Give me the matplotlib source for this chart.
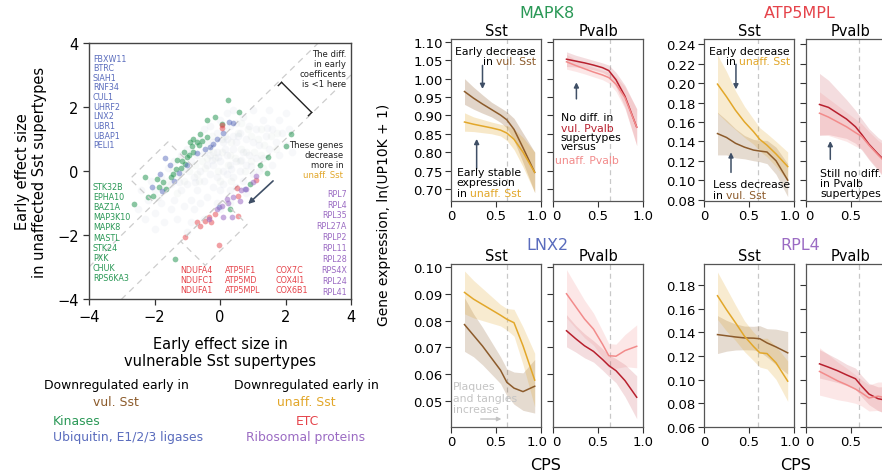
import numpy as np
import matplotlib.pyplot as plt
from matplotlib.patches import Polygon
from matplotlib.transforms import ScaledTranslation

plt.rcParams['font.family'] = ['DejaVu Sans']
plt.rcParams['axes.unicode_minus'] = True

W, H = 882, 477

# colours
VUL_SST = '#8c5b2b'
UNAFF_SST = '#e2a72a'
VUL_PV = '#b8202e'
UNAFF_PV = '#f28b8b'
KIN = '#2a9856'
UBI = '#5a6cbd'
ETC = '#e5434a'
RIB = '#9b6bc3'
ARROW = '#3f4f66'

# ---- scatter data (early effect sizes) ----
bg_x = [-2.5, -2.4, -2.3, -2.2, -2.1, -2.0, -2.0, -1.8, -1.8, -1.7, -1.7, -1.6,
        -1.5, -1.5, -1.4, -1.4, -1.3, -1.3, -1.2, -1.2, -1.1, -1.1, -1.0, -1.0,
        -0.9, -0.9, -0.9, -0.8, -0.8, -0.8, -0.7, -0.7, -0.6, -0.6, -0.6, -0.5,
        -0.5, -0.5, -0.4, -0.4, -0.4, -0.3, -0.3, -0.3, -0.2, -0.2, -0.2, -0.1,
        -0.1, -0.1, -0.1, 0.0, 0.0, 0.0, 0.1, 0.1, 0.1, 0.1, 0.2, 0.2, 0.2, 0.2,
        0.3, 0.3, 0.3, 0.4, 0.4, 0.4, 0.4, 0.5, 0.5, 0.5, 0.5, 0.6, 0.6, 0.7,
        0.7, 0.7, 0.8, 0.8, 0.8, 0.9, 0.9, 1.0, 1.0, 1.0, 1.1, 1.1, 1.2, 1.2,
        1.3, 1.3, 1.4, 1.5, 1.5, 1.6, 1.6, 1.7, 1.8, 1.8, 1.9, 2.0, 2.0, 2.1,
        2.2, -1.0, -0.5, 0.0, -2.0, 0.3, -0.25, 0.15, 0.65, -0.75, 0.95, 1.45,
        -1.25, 0.35, -0.05, 0.55]
bg_y = [-1.2, -0.6, -1.5, -0.9, -0.3, -1.3, -0.6, -1.0, -0.2, -1.6, -0.6, 0.1,
        -1.2, -0.4, -0.9, 0.3, -0.1, -1.5, -0.6, 0.5, -1.1, 0.1, -0.4, 0.7,
        -0.9, 0.3, -1.6, -0.2, 0.9, -1.2, 0.5, -0.6, 0.0, 1.0, -1.0, 0.6,
        -0.3, 1.3, 0.2, -0.8, 0.9, -0.1, 1.4, 0.5, -0.5, 0.9, 0.2, 1.2,
        -0.2, 0.6, -1.0, 0.3, 1.6, -0.6, 0.9, 0.0, 1.3, -0.4, 0.5, 1.8, -0.1, 1.0,
        0.2, 1.4, -0.6, 0.7, -0.2, 1.1, 1.9, 0.3, -0.5, 1.5, 0.9, 0.0, 1.2, 0.6,
        -0.3, 1.7, 0.2, 1.0, -0.7, 1.4, 0.5, -0.1, 0.9, 1.9, 0.4, 1.3, 0.0, 0.8,
        1.6, 0.4, 1.1, 0.7, 1.9, 0.2, 1.3, 0.9, 1.6, 0.5, 1.2, 0.8, 1.8, 1.3,
        0.6, -1.9, -1.5, -1.2, -1.8, -1.0, 0.35, 0.7, 0.35, -0.35, 0.15, 1.35,
        -0.35, 0.05, 0.45, 1.1]
bg2_x = [-1.9, -1.6, -1.3, -1.1, -0.95, -0.75, -0.65, -0.45, -0.35, -0.15,
         -0.05, 0.05, 0.15, 0.25, 0.35, 0.45, 0.55, 0.65, 0.75, 0.85,
         0.95, 1.05, 1.15, 1.25, 1.35, 1.55, 1.75, -1.45, -1.15, -0.85,
         -0.55, -0.25, 0.05, 0.35, 0.65, 0.95, 1.25, -0.7, -0.2, 0.3,
         0.8, 1.3, 1.7, -1.7, -1.2, 0.6, 0.0, -0.4]
bg2_y = [-0.8, -0.3, -0.7, -0.3, 0.0, 0.2, -0.3, 0.1, 0.7, 0.4,
         0.0, 0.6, 1.1, 0.2, 0.9, 0.4, 1.2, 0.7, 0.0, 1.3,
         0.3, 0.6, 1.0, 0.5, 0.8, 1.1, 1.2, 0.0, 0.4, 0.6,
         0.3, 1.1, 1.0, -0.3, 1.5, 1.1, 1.3, -0.1, 0.6, 0.5,
         0.6, 0.1, 0.7, -0.5, 0.0, 0.3, -0.3, 0.4]

kin_x = [0.25, -0.39, -0.15, 0.07, -0.61, -0.91, -0.81, -0.7, -0.65, -0.86, -0.81,
         -1.0, -1.07, -1.15, -1.2, -1.35, -1.45, -1.5, -1.73, -1.93, -2.29, -2.04,
         -2.19, -1.85, -1.65, -2.62, -1.37, 2.16, 2.03, 1.47, 1.22, 1.43, 0.92, 0.3,
         0.59, -1.1, -0.95, -1.3, -0.55, -0.4]
kin_y = [2.22, 1.6, 1.69, 1.47, 1.16, 0.92, 1.0, 0.9, 0.8, 0.79, 0.58,
         0.45, 0.22, 0.3, 0.1, 0.05, -0.1, -0.2, -0.35, -0.25, -0.2, -0.77,
         -0.82, -0.5, -0.55, -1.03, -2.75, 1.16, 0.79, 0.43, 0.19, -0.06, -0.41, -1.19,
         1.83, 0.6, 0.5, 0.35, 0.95, 1.05]
ubi_x = [0.27, 0.08, -0.1, -0.31, -0.45, -1.68, -1.53, -1.83, -2.09, -1.78, -1.25,
         -1.0, -0.7, 0.76, -0.02, 0.4, -1.4, -0.2]
ubi_y = [1.52, 1.2, 1.0, 0.74, 0.7, 0.4, 0.19, -0.09, -0.51, -0.62, -0.05,
         0.2, 0.55, -0.56, -1.13, 1.5, -0.3, 0.85]
etc_x = [0.05, 0.05, 1.09, 0.56, 0.51, 0.56, -0.15, -0.26, -0.46, -0.61, -0.7, -1.07,
         -0.02, -0.35]
etc_y = [1.33, 1.44, -0.28, -0.77, -0.54, -1.4, -1.34, -1.6, -1.55, -1.71, -1.6, -2.07,
         -2.3, -1.45]
rib_x = [1.1, 0.4, 0.2, 0.05, 0.1, 0.36, -0.33, 0.65, 0.6, 0.8, 1.0, -0.1, 0.25]
rib_y = [-0.15, -0.82, -0.87, -1.08, -1.45, -1.45, -1.5, -0.6, -0.95, -0.55, -0.35,
         -1.2, -1.0]

ubi_genes = ['FBXW11', 'BTRC', 'SIAH1', 'RNF34', 'CUL1', 'UHRF2', 'LNX2', 'UBR1',
             'UBAP1', 'PELI1']
kin_genes = ['STK32B', 'EPHA10', 'BAZ1A', 'MAP3K10', 'MAPK8', 'MASTL', 'STK24',
             'PXK', 'CHUK', 'RPS6KA3']
rib_genes = ['RPL7', 'RPL4', 'RPL35', 'RPL27A', 'RPLP2', 'RPL11', 'RPL28', 'RPS4X',
             'RPL24', 'RPL41']
etc_genes = [['NDUFA4', 'NDUFC1', 'NDUFA1'], ['ATP5IF1', 'ATP5MD', 'ATP5MPL'],
             ['COX7C', 'COX4I1', 'COX6B1']]

# ---- expression trends along CPS ----
cps = [0.15, 0.25, 0.35, 0.45, 0.55, 0.62, 0.7, 0.8, 0.93]

mapk8_sst_vul = [0.965, 0.947, 0.931, 0.916, 0.901, 0.888, 0.862, 0.812, 0.745]
mapk8_sst_vul_ci = [0.035, 0.03, 0.025, 0.02, 0.02, 0.022, 0.03, 0.04, 0.055]
mapk8_sst_unaff = [0.882, 0.876, 0.871, 0.866, 0.86, 0.852, 0.835, 0.8, 0.745]
mapk8_sst_unaff_ci = [0.025, 0.02, 0.018, 0.016, 0.016, 0.02, 0.028, 0.04, 0.055]
mapk8_pv_vul = [1.053, 1.048, 1.043, 1.037, 1.03, 1.022, 0.997, 0.952, 0.868]
mapk8_pv_vul_ci = [0.02, 0.016, 0.014, 0.013, 0.013, 0.015, 0.02, 0.03, 0.05]
mapk8_pv_unaff = [1.046, 1.036, 1.027, 1.018, 1.01, 1.003, 0.985, 0.948, 0.868]
mapk8_pv_unaff_ci = [0.02, 0.016, 0.014, 0.013, 0.013, 0.015, 0.02, 0.03, 0.05]

atp_sst_vul = [0.148, 0.144, 0.138, 0.134, 0.131, 0.130, 0.129, 0.12, 0.1]
atp_sst_vul_ci = [0.022, 0.018, 0.015, 0.012, 0.011, 0.011, 0.012, 0.014, 0.017]
atp_sst_unaff = [0.199, 0.186, 0.172, 0.16, 0.15, 0.142, 0.136, 0.127, 0.114]
atp_sst_unaff_ci = [0.03, 0.026, 0.02, 0.016, 0.013, 0.012, 0.012, 0.013, 0.015]
atp_pv_vul = [0.178, 0.175, 0.169, 0.163, 0.155, 0.147, 0.137, 0.127, 0.115]
atp_pv_vul_ci = [0.032, 0.028, 0.024, 0.02, 0.017, 0.016, 0.016, 0.017, 0.02]
atp_pv_unaff = [0.169, 0.165, 0.16, 0.155, 0.149, 0.145, 0.136, 0.126, 0.114]
atp_pv_unaff_ci = [0.022, 0.019, 0.017, 0.015, 0.014, 0.013, 0.014, 0.015, 0.018]

lnx2_sst_vul = [0.0785, 0.0745, 0.0705, 0.066, 0.0615, 0.057, 0.0548, 0.0535, 0.0555]
lnx2_sst_vul_ci = [0.01, 0.008, 0.007, 0.006, 0.005, 0.005, 0.006, 0.007, 0.01]
lnx2_sst_unaff = [0.0905, 0.088, 0.086, 0.084, 0.082, 0.0805, 0.0792, 0.0706, 0.0578]
lnx2_sst_unaff_ci = [0.008, 0.007, 0.006, 0.005, 0.004, 0.004, 0.005, 0.007, 0.01]
lnx2_pv_vul = [0.0762, 0.0733, 0.0706, 0.0685, 0.0655, 0.0632, 0.0613, 0.0576, 0.0514]
lnx2_pv_vul_ci = [0.006, 0.005, 0.0045, 0.004, 0.004, 0.004, 0.0045, 0.006, 0.008]
lnx2_pv_unaff = [0.090, 0.0853, 0.0806, 0.0768, 0.0712, 0.0669, 0.0667, 0.0688, 0.0704]
lnx2_pv_unaff_ci = [0.009, 0.008, 0.007, 0.006, 0.005, 0.0045, 0.0045, 0.006, 0.008]

rpl4_sst_vul = [0.138, 0.137, 0.136, 0.1352, 0.135, 0.1345, 0.131, 0.1276, 0.1226]
rpl4_sst_vul_ci = [0.016, 0.013, 0.011, 0.01, 0.01, 0.011, 0.012, 0.015, 0.018]
rpl4_sst_unaff = [0.1708, 0.159, 0.148, 0.1366, 0.128, 0.1226, 0.122, 0.1142, 0.0987]
rpl4_sst_unaff_ci = [0.02, 0.018, 0.015, 0.013, 0.012, 0.012, 0.013, 0.014, 0.017]
rpl4_pv_vul = [0.1133, 0.1105, 0.1075, 0.104, 0.1007, 0.0943, 0.0878, 0.0839, 0.082]
rpl4_pv_vul_ci = [0.012, 0.011, 0.01, 0.009, 0.009, 0.009, 0.009, 0.01, 0.012]
rpl4_pv_unaff = [0.1069, 0.103, 0.099, 0.0957, 0.092, 0.0887, 0.0845, 0.086, 0.084]
rpl4_pv_unaff_ci = [0.02, 0.018, 0.016, 0.014, 0.012, 0.011, 0.011, 0.012, 0.014]

ANN = 7.8   # annotation font size inside panels


def rich_line(ax, x, y, parts, ha='left', size=ANN, tr=None):
    tr = tr or ax.transAxes
    if ha == 'left':
        s, c = parts[0]
        t = ax.text(x, y, s, color=c, fontsize=size, transform=tr, ha='left', va='baseline')
        for s, c in parts[1:]:
            t = ax.annotate(s, xy=(1, 0), xycoords=t, color=c, fontsize=size,
                            ha='left', va='bottom')
    else:
        s, c = parts[-1]
        t = ax.text(x, y, s, color=c, fontsize=size, transform=tr, ha='right', va='baseline')
        for s, c in reversed(parts[:-1]):
            t = ax.annotate(s, xy=(0, 0), xycoords=t, color=c, fontsize=size,
                            ha='right', va='bottom')


def px_axes(left, top, width, height):
    return fig.add_axes([left / W, 1 - (top + height) / H, width / W, height / H])


def panel(left, top, height, ylim, yticks, ylabels, series, vline, cut=False):
    ax = px_axes(left, top, 90, height)
    for m, ci, c, a in series:
        m = np.array(m)
        ci = np.array(ci)
        ax.fill_between(cps, m - ci, m + ci, color=c, alpha=a, lw=0)
        ax.plot(cps, m, color=c, lw=1.1)
    ax.axvline(vline, color='#c8c8c8', ls=(0, (4, 3)), lw=0.9, zorder=0)
    ax.set_xlim(0, 1)
    ax.set_ylim(*ylim)
    ax.set_xticks([0, 0.5, 1.0])
    ax.set_xticklabels(['0', '0.5', '' if cut else '1.0'])
    ax.set_yticks(yticks)
    if ylabels:
        ax.set_yticklabels(ylabels)
    else:
        ax.set_yticklabels([])
    ax.tick_params(direction='out', length=4, width=0.8, labelsize=9.5, color='#333333',
                   pad=2)
    for sp in ax.spines.values():
        sp.set_color('#555555')
        sp.set_linewidth(0.9)
    # the "1.0" of Sst and the "0" of Pvalb sit right next to each other
    labs = ax.get_xticklabels()
    if ylabels:
        labs[-1].set_transform(labs[-1].get_transform()
                               + ScaledTranslation(-0.035, 0, fig.dpi_scale_trans))
    else:
        labs[0].set_transform(labs[0].get_transform()
                              + ScaledTranslation(0.03, 0, fig.dpi_scale_trans))
    return ax


def arrow(ax, x, y0, y1, color=ARROW):
    ax.annotate('', xy=(x, y1), xytext=(x, y0),
                arrowprops=dict(arrowstyle='-|>', color=color, lw=1.1,
                                mutation_scale=7, shrinkA=0, shrinkB=0))


fig = plt.figure(figsize=(W / 100, H / 100), dpi=100)

# ================= scatter =================
ax = px_axes(89, 44, 262, 256)
ax.scatter(bg_x, bg_y, s=30, color='#98a3c6', alpha=0.07, lw=0)
ax.scatter(bg2_x, bg2_y, s=30, color='#a9bcae', alpha=0.07, lw=0)
ax.scatter(kin_x, kin_y, s=17, color=KIN, alpha=0.55, lw=0)
ax.scatter(ubi_x, ubi_y, s=17, color=UBI, alpha=0.5, lw=0)
ax.scatter(etc_x, etc_y, s=17, color=ETC, alpha=0.5, lw=0)
ax.scatter(rib_x, rib_y, s=17, color=RIB, alpha=0.55, lw=0)

dash = dict(color='#cdcdcd', ls=(0, (5, 4)), lw=0.9, zorder=0)
ax.plot([-4, 4], [-3, 5], **dash)
ax.plot([-4, 4], [-5, 3], **dash)
ax.add_patch(Polygon([(-0.84, 0.16), (-1.59, 0.91), (-2.75, -0.25), (-2.0, -1.0)],
                     closed=True, fill=False, ec='#cdcdcd', ls=(0, (5, 4)), lw=0.9))
ax.add_patch(Polygon([(0.08, -0.92), (0.83, -1.67), (-0.45, -2.95), (-1.2, -2.2)],
                     closed=True, fill=False, ec='#cdcdcd', ls=(0, (5, 4)), lw=0.9))

# bracket
ax.plot([1.88, 2.8], [2.77, 1.83], color='#222222', lw=1.0)
ax.plot([1.88, 1.78], [2.77, 2.67], color='#222222', lw=1.0)
ax.plot([2.8, 2.7], [1.83, 1.73], color='#222222', lw=1.0)
for i, s in enumerate(['The diff.', 'in early', 'coefficents', 'is <1 here']):
    ax.text(3.85, 3.58 - 0.31 * i, s, fontsize=6.1, ha='right', va='baseline', color='#222222')
for i, s in enumerate(['These genes', 'decrease', 'more in']):
    ax.text(3.76, 0.75 - 0.31 * i, s, fontsize=6.1, ha='right', va='baseline', color='#222222')
ax.text(3.76, 0.75 - 0.93, 'unaff. Sst', fontsize=6.1, ha='right', va='baseline', color=UNAFF_SST)
ax.annotate('', xy=(0.86, -1.03), xytext=(1.62, -0.31),
            arrowprops=dict(arrowstyle='-|>', color=ARROW, lw=1.2, mutation_scale=8,
                            shrinkA=0, shrinkB=0))

for i, g in enumerate(ubi_genes):
    ax.text(-3.88, 3.45 - 0.301 * i, g, fontsize=5.8, color=UBI, va='baseline')
for i, g in enumerate(kin_genes):
    ax.text(-3.88, -0.56 - 0.317 * i, g, fontsize=5.8, color=KIN, va='baseline')
for i, g in enumerate(rib_genes):
    ax.text(3.88, -0.77 - 0.341 * i, g, fontsize=5.8, color=RIB, va='baseline', ha='right')
for col, xpos in zip(etc_genes, [-1.22, 0.15, 1.68]):
    for j, g in enumerate(col):
        ax.text(xpos, -3.15 - 0.32 * j, g, fontsize=5.8, color=ETC, va='baseline')

ax.set_xlim(-4, 4)
ax.set_ylim(-4, 4)
ax.set_xticks([-4, -2, 0, 2, 4])
ax.set_yticks([-4, -2, 0, 2, 4])
ax.tick_params(direction='out', length=4, width=0.9, labelsize=10.5, color='#333333')
for sp in ax.spines.values():
    sp.set_color('#444444')
    sp.set_linewidth(1.0)

fig.text(31 / W, 1 - 172 / H, 'Early effect size\nin unaffected Sst supertypes', rotation=90,
         ha='center', va='center', fontsize=10.5, linespacing=1.1, multialignment='center')
fig.text(220 / W, 1 - 353 / H, 'Early effect size in\nvulnerable Sst supertypes',
         ha='center', va='center', fontsize=10.5, linespacing=1.1, multialignment='center')

LEG = 8.9
fig.text(116 / W, 1 - 386 / H, 'Downregulated early in', ha='center', va='center', fontsize=LEG)
fig.text(116 / W, 1 - 402 / H, 'vul. Sst', ha='center', va='center', fontsize=LEG, color=VUL_SST)
fig.text(306 / W, 1 - 386 / H, 'Downregulated early in', ha='center', va='center', fontsize=LEG)
fig.text(306 / W, 1 - 402 / H, 'unaff. Sst', ha='center', va='center', fontsize=LEG,
         color=UNAFF_SST)
fig.text(53 / W, 1 - 422 / H, 'Kinases', ha='left', va='center', fontsize=LEG, color=KIN)
fig.text(53 / W, 1 - 438 / H, 'Ubiquitin, E1/2/3 ligases', ha='left', va='center',
         fontsize=LEG, color=UBI)
fig.text(307 / W, 1 - 422 / H, 'ETC', ha='center', va='center', fontsize=LEG, color=ETC)
fig.text(306 / W, 1 - 438 / H, 'Ribosomal proteins', ha='center', va='center',
         fontsize=LEG, color=RIB)

# ================= trend panels =================
TOP1, H1 = 40, 162
TOP2, H2 = 265, 163

mapk8_yt = [0.70, 0.75, 0.80, 0.85, 0.90, 0.95, 1.00, 1.05, 1.10]
ax1 = panel(451, TOP1, H1, (0.667, 1.108), mapk8_yt, ['%.2f' % v for v in mapk8_yt],
            [(mapk8_sst_vul, mapk8_sst_vul_ci, VUL_SST, 0.25),
             (mapk8_sst_unaff, mapk8_sst_unaff_ci, UNAFF_SST, 0.25)], 0.62)
ax2 = panel(553, TOP1, H1, (0.667, 1.108), mapk8_yt, None,
            [(mapk8_pv_vul, mapk8_pv_vul_ci, VUL_PV, 0.15),
             (mapk8_pv_unaff, mapk8_pv_unaff_ci, UNAFF_PV, 0.2)], 0.63)

atp_yt = [0.08, 0.10, 0.12, 0.14, 0.16, 0.18, 0.20, 0.22, 0.24]
ax3 = panel(704, TOP1, H1, (0.0785, 0.2455), atp_yt, ['%.2f' % v for v in atp_yt],
            [(atp_sst_vul, atp_sst_vul_ci, VUL_SST, 0.22),
             (atp_sst_unaff, atp_sst_unaff_ci, UNAFF_SST, 0.22)], 0.6)
ax4 = panel(806, TOP1, H1, (0.0785, 0.2455), atp_yt, None,
            [(atp_pv_vul, atp_pv_vul_ci, VUL_PV, 0.15),
             (atp_pv_unaff, atp_pv_unaff_ci, UNAFF_PV, 0.2)], 0.59, cut=True)

lnx_yt = [0.05, 0.06, 0.07, 0.08, 0.09, 0.10]
ax5 = panel(451, TOP2, H2, (0.0403, 0.1011), lnx_yt, ['%.2f' % v for v in lnx_yt],
            [(lnx2_sst_vul, lnx2_sst_vul_ci, VUL_SST, 0.22),
             (lnx2_sst_unaff, lnx2_sst_unaff_ci, UNAFF_SST, 0.22)], 0.62)
ax6 = panel(553, TOP2, H2, (0.0403, 0.1011), lnx_yt, None,
            [(lnx2_pv_vul, lnx2_pv_vul_ci, VUL_PV, 0.15),
             (lnx2_pv_unaff, lnx2_pv_unaff_ci, UNAFF_PV, 0.2)], 0.63)

rpl_yt = [0.06, 0.08, 0.10, 0.12, 0.14, 0.16, 0.18]
ax7 = panel(704, TOP2, H2, (0.06, 0.1976), rpl_yt, ['%.2f' % v for v in rpl_yt],
            [(rpl4_sst_vul, rpl4_sst_vul_ci, VUL_SST, 0.22),
             (rpl4_sst_unaff, rpl4_sst_unaff_ci, UNAFF_SST, 0.22)], 0.6)
ax8 = panel(806, TOP2, H2, (0.06, 0.1976), rpl_yt, None,
            [(rpl4_pv_vul, rpl4_pv_vul_ci, VUL_PV, 0.15),
             (rpl4_pv_unaff, rpl4_pv_unaff_ci, UNAFF_PV, 0.2)], 0.59, cut=True)

for a in [ax1, ax3, ax5, ax7]:
    a.set_title('Sst', fontsize=10.5, pad=3)
for a in [ax2, ax4, ax6, ax8]:
    a.set_title('Pvalb', fontsize=10.5, pad=3)

fig.text(547 / W, 1 - 13 / H, 'MAPK8', ha='center', va='center', fontsize=11.5, color=KIN)
fig.text(800 / W, 1 - 13 / H, 'ATP5MPL', ha='center', va='center', fontsize=11.5, color=ETC)
fig.text(547 / W, 1 - 246 / H, 'LNX2', ha='center', va='center', fontsize=11.5, color=UBI)
fig.text(800 / W, 1 - 246 / H, 'RPL4', ha='center', va='center', fontsize=11.5, color=RIB)

fig.text(384 / W, 1 - 215 / H, 'Gene expression, ln(UP10K + 1)', rotation=90,
         ha='center', va='center', fontsize=10)
fig.text(546 / W, 1 - 466 / H, 'CPS', ha='center', va='center', fontsize=11.5)
fig.text(796 / W, 1 - 466 / H, 'CPS', ha='center', va='center', fontsize=11.5)

# annotations MAPK8
ax1.text(0.944, 0.907, 'Early decrease', fontsize=ANN, ha='right', va='baseline',
         transform=ax1.transAxes)
rich_line(ax1, 0.944, 0.846, [('in ', 'black'), ('vul. Sst', VUL_SST)], ha='right')
arrow(ax1, 0.35, 1.036, 0.972)
arrow(ax1, 0.285, 0.755, 0.836)
ax1.text(0.063, 0.16, 'Early stable', fontsize=ANN, va='baseline', transform=ax1.transAxes)
ax1.text(0.063, 0.099, 'expression', fontsize=ANN, va='baseline', transform=ax1.transAxes)
rich_line(ax1, 0.063, 0.031, [('in ', 'black'), ('unaff. Sst', UNAFF_SST)])

arrow(ax2, 0.26, 0.945, 0.99)
ax2.text(0.086, 0.502, 'No diff. in', fontsize=ANN, va='baseline', transform=ax2.transAxes)
ax2.text(0.086, 0.434, 'vul. Pvalb', fontsize=ANN, va='baseline', color=VUL_PV,
         transform=ax2.transAxes)
ax2.text(0.086, 0.378, 'supertypes', fontsize=ANN, va='baseline', transform=ax2.transAxes)
ax2.text(0.086, 0.321, 'versus', fontsize=ANN, va='baseline', transform=ax2.transAxes)
ax2.text(0.022, 0.235, 'unaff. Pvalb', fontsize=ANN, va='baseline', color=UNAFF_PV,
         transform=ax2.transAxes)

# annotations ATP5MPL
ax3.text(0.956, 0.907, 'Early decrease', fontsize=ANN, ha='right', va='baseline',
         transform=ax3.transAxes)
rich_line(ax3, 0.956, 0.844, [('in ', 'black'), ('unaff. Sst', UNAFF_SST)], ha='right')
arrow(ax3, 0.355, 0.2194, 0.1936)
arrow(ax3, 0.3, 0.108, 0.1287)
ax3.text(0.097, 0.085, 'Less decrease', fontsize=ANN, va='baseline', transform=ax3.transAxes)
rich_line(ax3, 0.097, 0.017, [('in ', 'black'), ('vul. Sst', VUL_SST)])

arrow(ax4, 0.27, 0.1214, 0.1403)
ax4.text(0.155, 0.156, 'Still no diff.', fontsize=ANN, va='baseline', transform=ax4.transAxes)
ax4.text(0.155, 0.094, 'in Pvalb', fontsize=ANN, va='baseline', transform=ax4.transAxes)
ax4.text(0.155, 0.033, 'supertypes', fontsize=ANN, va='baseline', transform=ax4.transAxes)

# plaques note
for i, s in enumerate(['Plaques', 'and tangles', 'increase']):
    ax5.text(0.02, 0.233 - 0.072 * i, s, fontsize=ANN, va='baseline', color='#c4c4c4',
             transform=ax5.transAxes)
ax5.annotate('', xy=(0.56, 0.049), xytext=(0.33, 0.049), xycoords='axes fraction',
             arrowprops=dict(arrowstyle='-|>', color='#c4c4c4', lw=1.0, mutation_scale=6,
                             shrinkA=0, shrinkB=0))

fig.savefig('out.png', dpi=100)
